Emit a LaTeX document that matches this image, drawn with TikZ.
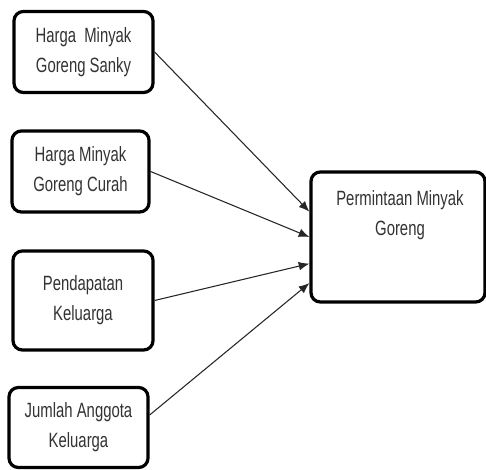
\documentclass[tikz,border=0pt]{standalone}
\usepackage{fontspec}
\setmainfont{Liberation Sans}[FakeStretch=0.72]
\usetikzlibrary{arrows.meta,calc}
\begin{document}
\begin{tikzpicture}[x=0.75pt,y=-0.75pt,
  box/.style={draw=black, line width=2.4pt, rounded corners=7pt, fill=white,
    align=center, inner sep=0pt, text=black!80,
    font={\fontsize{15.5}{22.5}\selectfont}},
  conn/.style={draw=black!85, line width=0.8pt, -{Latex[length=8pt,width=6.5pt]}},
  txt/.style={align=center, inner sep=0pt, text=black!80,
    font={\fontsize{15.5}{22.5}\selectfont}}]
\useasboundingbox (0,0) rectangle (486,470);
\node[box, minimum width=139*0.75pt, minimum height=81*0.75pt] (b1) at (83.5,52) {Harga\ \ Minyak\\Goreng Sanky};
\node[box, minimum width=137*0.75pt, minimum height=81*0.75pt] (b2) at (80.5,171.5) {Harga Minyak\\Goreng Curah};
\node[box, minimum width=140*0.75pt, minimum height=99*0.75pt] (b3) at (83,300.5) {Pendapatan\\Keluarga};
\node[box, minimum width=139*0.75pt, minimum height=80*0.75pt] (b4) at (78.5,427.5) {Jumlah Anggota\\Keluarga};
\node[box, minimum width=174*0.75pt, minimum height=130*0.75pt] (p) at (398,237) {};
\node[txt, anchor=north] (pt) at (400,190) {Permintaan Minyak\\Goreng};
\coordinate (e1) at ($(p.north west)!0.31!(p.south west)$);
\coordinate (e2) at ($(p.north west)!0.50!(p.south west)$);
\coordinate (e3) at ($(p.north west)!0.70!(p.south west)$);
\coordinate (e4) at ($(p.north west)!0.846!(p.south west)$);
\coordinate (s4) at ($(b4.north east)!0.35!(b4.south east)$);
\draw[conn] (b1.east) -- (e1);
\draw[conn] (b2.east) -- (e2);
\draw[conn] (b3.east) -- (e3);
\draw[conn] (s4) -- (e4);
\end{tikzpicture}
\end{document}
